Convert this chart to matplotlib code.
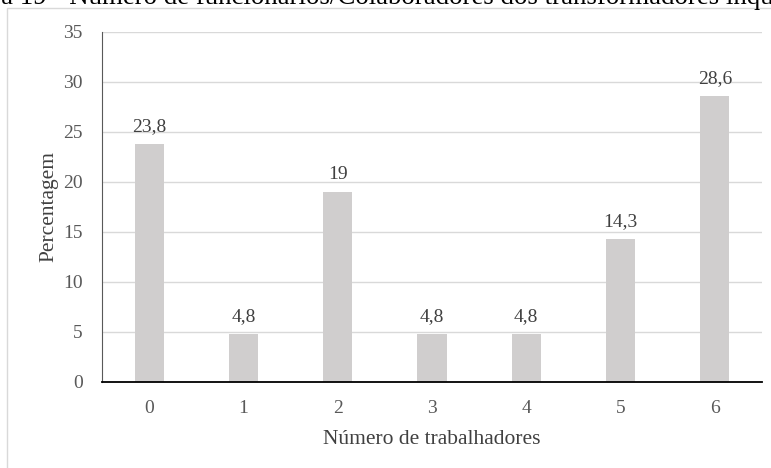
import matplotlib
matplotlib.use('Agg')
import matplotlib.pyplot as plt
from matplotlib.patches import Rectangle

categorias = ['0', '1', '2', '3', '4', '5', '6']
percentagens = [23.8, 4.8, 19, 4.8, 4.8, 14.3, 28.6]
rotulos = ['23,8', '4,8', '19', '4,8', '4,8', '14,3', '28,6']
yticks = [0, 5, 10, 15, 20, 25, 30, 35]

plt.rcParams['font.family'] = ['Liberation Serif', 'DejaVu Serif']

W, H = 771, 468
fig = plt.figure(figsize=(W / 100, H / 100), dpi=100)

# caption cut off at top of image
fig.text(-57 / W, 1 - 4 / H,
         'Figura 19 - Número de funcionários/Colaboradores dos transformadores inquiridos',
         fontsize=19.4, color='black', va='baseline', ha='left')

# chart area border
fig.patches.append(Rectangle((7 / W, -0.1), 1.0, 1 - 8 / H + 0.1,
                             transform=fig.transFigure, fill=False,
                             edgecolor='#d9d9d9', linewidth=1))

ax = fig.add_axes([102 / W, 1 - 382 / H, 660 / W, 350 / H])
x = range(len(categorias))
ax.bar(x, percentagens, width=0.31, color='#d0cece', zorder=2)
for xi, v, lab in zip(x, percentagens, rotulos):
    ax.text(xi, v + 0.9, lab, ha='center', va='bottom', fontsize=14, color='#404040')

ax.set_xlim(-0.5, len(categorias) - 0.5)
ax.set_ylim(0, 35)
ax.set_yticks(yticks)
ax.set_xticks(list(x))
ax.set_xticklabels(categorias)
ax.grid(axis='y', color='#d9d9d9', linewidth=1, zorder=0)
ax.set_axisbelow(True)
for s in ['top', 'right']:
    ax.spines[s].set_visible(False)
ax.spines['left'].set_color('#595959')
ax.spines['bottom'].set_color('black')
ax.spines['bottom'].set_linewidth(1.3)
ax.tick_params(axis='y', length=0, pad=14, labelsize=14, labelcolor='#595959')
ax.tick_params(axis='x', length=0, pad=13, labelsize=14, labelcolor='#595959')

ax.set_ylabel('Percentagem', fontsize=15.5, color='#404040')
ax.yaxis.set_label_coords(-44 / 660, 0.5)
ax.set_xlabel('Número de trabalhadores', fontsize=15.5, color='#404040')
ax.xaxis.set_label_coords(0.5, -48 / 350)

fig.savefig('out.png', dpi=100)
